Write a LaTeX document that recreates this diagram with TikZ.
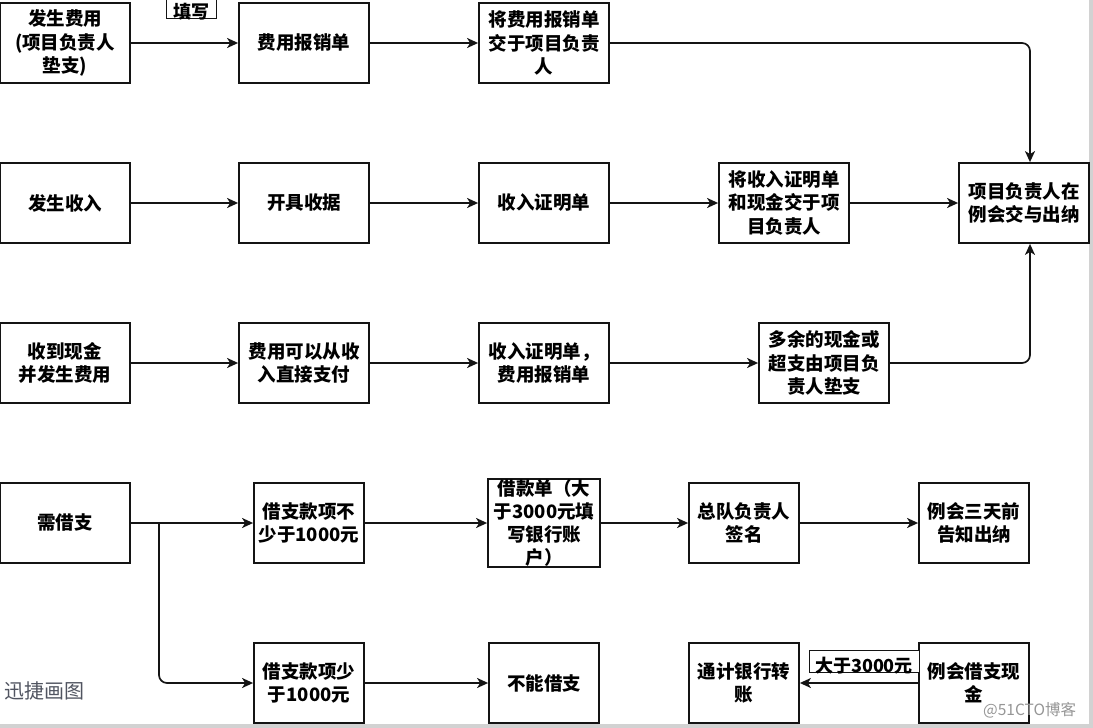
\documentclass[tikz,border=0pt]{standalone}
\usepackage{fontspec}
\setmainfont{Noto Sans CJK SC}
\newfontfamily\cjk{Noto Sans CJK SC}
\usetikzlibrary{arrows.meta}
\definecolor{edge}{RGB}{20,20,20}
\definecolor{wmA}{RGB}{80,84,96}
\definecolor{wmB}{RGB}{150,150,150}
\tikzset{
  box/.style={draw=edge, line width=1.8pt, fill=white, align=center, inner sep=0pt,
    minimum width=130pt, minimum height=80pt,
    font=\cjk\bfseries\fontsize{18.5}{23.3}\selectfont},
  sbox/.style={box, minimum width=110pt},
  lab/.style={draw=edge, line width=0.9pt, fill=white, inner sep=0pt, align=center,
    text depth=-2pt, anchor=south,
    font=\cjk\bfseries\fontsize{18}{22}\selectfont},
  arr/.style={draw=edge, line width=1.7pt, -{Stealth[length=11pt,width=10pt,inset=3pt]}},
}
\begin{document}
\begin{tikzpicture}[x=1pt,y=-1pt]
\useasboundingbox (0,0) rectangle (1093,728);
\fill[white] (0,0) rectangle (1093,728);
\fill[gray!35] (1089,0) rectangle (1093,728);
\fill[gray!35] (0,724) rectangle (1093,728);

% row 1
\node[box] (A1) at (65,43) {发生费用\\(项目负责人\\垫支)};
\node[box] (A2) at (304,43) {费用报销单};
\node[box] (A3) at (544,43) {将费用报销单\\交于项目负责\\人};
% row 2
\node[box] (B1) at (65,203) {发生收入};
\node[box] (B2) at (304,203) {开具收据};
\node[box] (B3) at (544,203) {收入证明单};
\node[box] (B4) at (784,203) {将收入证明单\\和现金交于项\\目负责人};
\node[box] (B5) at (1024,203) {项目负责人在\\例会交与出纳};
% row 3
\node[box] (C1) at (65,363) {收到现金\\并发生费用};
\node[box] (C2) at (304,363) {费用可以从收\\入直接支付};
\node[box] (C3) at (544,363) {收入证明单，\\费用报销单};
\node[box] (C4) at (824,363) {多余的现金或\\超支由项目负\\责人垫支};
% row 4
\node[box] (D1) at (65,523) {需借支};
\node[sbox] (D2) at (309,523) {借支款项不\\少于1000元};
\node[sbox, minimum width=112pt] (D3) at (544,523) {借款单（大\\于3000元填\\写银行账\\户）};
\node[sbox] (D4) at (744,523) {总队负责人\\签名};
\node[sbox] (D5) at (974,523) {例会三天前\\告知出纳};
% row 5
\node[sbox] (E2) at (309,683) {借支款项少\\于1000元};
\node[sbox] (E3) at (544,683) {不能借支};
\node[sbox] (E4) at (744,683) {通计银行转\\账};
\node[sbox] (E5) at (974,683) {例会借支现\\金};

% connectors
\draw[arr] (A1) -- (A2);
\draw[arr] (A2) -- (A3);
\draw[arr, rounded corners=8pt] (A3.east) -| ([xshift=6pt]B5.north);
\draw[arr] (B1) -- (B2);
\draw[arr] (B2) -- (B3);
\draw[arr] (B3) -- (B4);
\draw[arr] (B4) -- (B5);
\draw[arr] (C1) -- (C2);
\draw[arr] (C2) -- (C3);
\draw[arr] (C3) -- (C4);
\draw[arr, rounded corners=8pt] (C4.east) -| ([xshift=6pt]B5.south);
\draw[arr] (D1) -- (D2);
\draw[arr] (D2) -- (D3);
\draw[arr] (D3) -- (D4);
\draw[arr] (D4) -- (D5);
\coordinate (Dsplit) at (159,523);
\draw[arr, rounded corners=8pt] (Dsplit) |- (E2.west);
\draw[arr] (E2) -- (E3);
\draw[arr] (E5) -- (E4);

% labels
\node[lab, minimum width=50pt, text height=28pt] (L1) at (191,19) {填写};
\node[lab, minimum width=110pt, text height=22pt] (L2) at (864,673) {大于3000元};

% watermarks
\node[font=\cjk\fontsize{20}{24}\selectfont, text=wmA, anchor=west, inner sep=0pt] (W1) at (4,691) {迅捷画图};
\node[font=\cjk\fontsize{15.5}{18}\selectfont, text=wmB, anchor=west, inner sep=0pt] (W2) at (983,710) {@51CTO博客};
\end{tikzpicture}
\end{document}
